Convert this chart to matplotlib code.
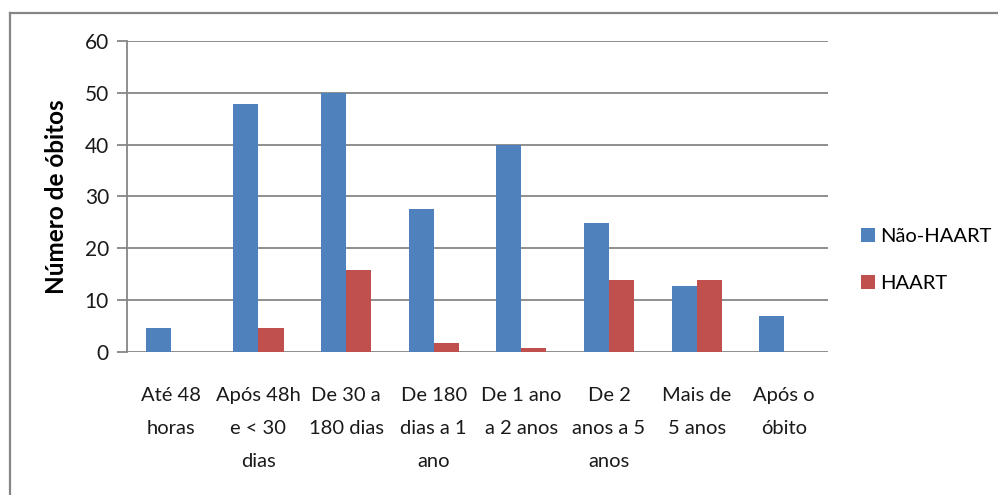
import matplotlib
matplotlib.use("Agg")
import matplotlib.pyplot as plt
from matplotlib.lines import Line2D
from matplotlib.patches import Patch
import numpy as np

# Dados: número de óbitos por tempo desde o diagnóstico
categories = [
    "Até 48\nhoras",
    "Após 48h\ne < 30\ndias",
    "De 30 a\n180 dias",
    "De 180\ndias a 1\nano",
    "De 1 ano\na 2 anos",
    "De 2\nanos a 5\nanos",
    "Mais de\n5 anos",
    "Após o\nóbito",
]
series_names = ["Não-HAART", "HAART"]
nao_haart = [4.7, 47.8, 50, 27.6, 40, 24.8, 12.8, 7]
haart = [0, 4.7, 15.8, 1.7, 0.8, 13.9, 13.9, 0]
yticks = [0, 10, 20, 30, 40, 50, 60]
ylabel = "Número de óbitos"

BLUE = "#4F81BD"
RED = "#C0504D"
GRID = "#868686"
FONT = ["Lato", "DejaVu Sans"]

fig = plt.figure(figsize=(9.98, 4.95), dpi=100)
ax = fig.add_axes([0.1273, 0.2889, 0.7024, 0.6283])

x = np.arange(len(categories))
w = 1 / 3.5
ax.bar(x - w / 2, nao_haart, width=w, color=BLUE, zorder=3, label=series_names[0])
ax.bar(x + w / 2, haart, width=w, color=RED, zorder=3, label=series_names[1])

ax.set_xlim(-0.5, len(categories) - 0.5)
ax.set_ylim(0, 60)
ax.set_yticks(yticks)
ax.set_yticklabels([str(t) for t in yticks], fontfamily=FONT, fontsize=15, color="#1a1a1a")
ax.set_xticks(x)
ax.set_xticklabels(categories, fontfamily=FONT, fontsize=14.5, color="#1a1a1a",
                   linespacing=2.15, va="top")

ax.yaxis.grid(True, color=GRID, linewidth=1.3, zorder=0)
ax.tick_params(axis="y", length=7, width=1.3, color=GRID, pad=6)
ax.tick_params(axis="x", length=0, pad=25)
for side in ("top", "right", "bottom"):
    ax.spines[side].set_visible(False)
ax.spines["left"].set_color(GRID)
ax.spines["left"].set_linewidth(1.3)

ax.set_ylabel(ylabel, fontfamily=FONT, fontsize=17.5, fontweight="bold", labelpad=12)

handles = [Patch(facecolor=BLUE), Patch(facecolor=RED)]
fig.legend(handles, series_names, loc="upper left", bbox_to_anchor=(0.863, 0.540),
           frameon=False, prop={"family": FONT, "size": 14.5},
           handlelength=0.7, handleheight=0.7, handletextpad=0.25, labelspacing=1.5,
           borderaxespad=0, borderpad=0)

# Moldura do gráfico (superior e esquerda)
fig.add_artist(Line2D([10 / 998, 1.0], [1 - 12.5 / 495, 1 - 12.5 / 495],
                      transform=fig.transFigure, color=GRID, linewidth=1.6))
fig.add_artist(Line2D([10 / 998, 10 / 998], [0, 1 - 12.5 / 495],
                      transform=fig.transFigure, color=GRID, linewidth=1.6))

fig.savefig("out.png", dpi=100)
